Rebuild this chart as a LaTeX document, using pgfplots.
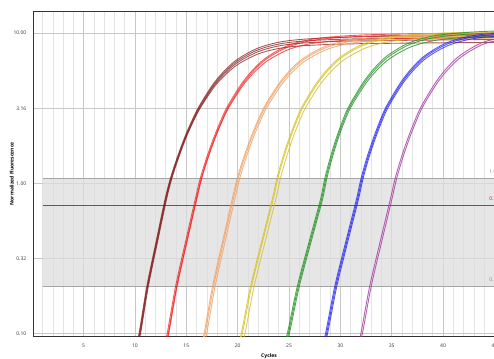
\documentclass[border=0pt]{standalone}
\usepackage{fontspec}
\setmainfont{Open Sans}
\usepackage{pgfplots}
\pgfplotsset{compat=1.18}
\definecolor{cDR}{RGB}{128,22,22}
\definecolor{cR}{RGB}{240,20,20}
\definecolor{cO}{RGB}{240,160,100}
\definecolor{cY}{RGB}{214,192,40}
\definecolor{cG}{RGB}{30,140,30}
\definecolor{cB}{RGB}{30,30,240}
\definecolor{cP}{RGB}{160,60,160}
\definecolor{bandfill}{RGB}{221,221,221}
\definecolor{bandline}{RGB}{165,165,165}
\begin{document}
\begin{tikzpicture}
\useasboundingbox (0,0) rectangle (494pt,358pt);
\clip (0,0) rectangle (494pt,358pt);
\node[anchor=base, font=\fontsize{16}{18}\selectfont, text=black!85, inner sep=0] at (67pt,361.5pt) {g};
\begin{axis}[
  at={(33.3pt,21.7pt)}, anchor=south west,
  scale only axis, width=472.4pt, height=325pt,
  xmin=0.1, xmax=46.1,
  ymode=log, ymin=0.0955, ymax=14.0,
  xtick={5,10,...,45}, minor xtick={1,...,47},
  ytick={0.1,0.31623,1,3.1623,10}, yticklabels={0.10,0.32,1.00,3.16,10.00},
  xmajorgrids=true, xminorgrids=true, ymajorgrids=true, yminorgrids=false,
  major grid style={black!22, line width=0.6pt},
  minor grid style={black!11, line width=0.6pt},
  axis line style={black!80, line width=0.9pt},
  major tick length=0pt, minor tick length=0pt,
  /pgf/number format/assume math mode=true,
  ticklabel style={font=\fontsize{5}{6}\selectfont, text=black!80},
  xticklabel style={yshift=-4pt},
  yticklabel style={xshift=-3.5pt},
  xlabel={\textbf{Cycles}}, ylabel={\textbf{Normalized Fluorescence}},
  label style={font=\fontsize{5}{6}\selectfont},
  xlabel style={at={(axis description cs:0.499,-0.0597)}, anchor=center},
  ylabel style={at={(axis description cs:-0.0457,0.5)}, anchor=center},
  every axis plot/.append style={line width=0.9pt},
]
% threshold band
\addplot[draw=none, fill=bandfill, opacity=0.75, forget plot] coordinates {(1,0.2046) (60,0.2046) (60,1.08) (1,1.08) (1,0.2046)};
\addplot[draw=bandline, line width=1.3pt, forget plot] coordinates {(1,1.08) (60,1.08)};
\addplot[draw=bandline, line width=1.3pt, forget plot] coordinates {(1,0.2046) (60,0.2046)};
\addplot[red, opacity=0.9, line width=1.4pt, smooth] coordinates {(1,0.709) (15,0.709) (30,0.709) (45,0.709) (60,0.709)};
\node[anchor=base west, font=\fontsize{5}{6}\selectfont, text=black!50, yshift=5pt, inner sep=0] at (axis cs:44.5,1.08) {1.08};
\node[anchor=base west, font=\fontsize{5}{6}\selectfont, text=red, yshift=5pt, inner sep=0] at (axis cs:44.5,0.709) {0.71};
\node[anchor=base west, font=\fontsize{5}{6}\selectfont, text=black!50, yshift=5pt, inner sep=0] at (axis cs:44.5,0.2046) {0.20};
% dark red
\addplot[draw=cDR, opacity=0.7, smooth] coordinates {(10.05,0.079)(10.40,0.100)(11.15,0.205)(12.05,0.407)(12.91,0.774)(13.45,1.08)(14.15,1.51)(14.95,2.11)(15.95,2.99)(16.75,3.72)(17.65,4.62)(18.65,5.56)(19.95,6.68)(22.15,8.04)(25.15,8.95)(31.15,9.44)(45.15,9.66)(50,9.67)};
\addplot[draw=cDR, opacity=0.7, smooth] coordinates {(10.10,0.079)(10.45,0.100)(11.20,0.205)(12.10,0.407)(12.96,0.774)(13.50,1.08)(14.20,1.51)(15.00,2.11)(16.00,2.98)(16.80,3.69)(17.70,4.57)(18.70,5.48)(20.00,6.55)(22.20,7.85)(25.20,8.71)(31.20,9.16)(45.20,9.37)(50,9.38)};
\addplot[draw=cDR, opacity=0.7, smooth] coordinates {(10.15,0.079)(10.50,0.100)(11.25,0.205)(12.15,0.407)(13.01,0.774)(13.55,1.08)(14.25,1.51)(15.05,2.11)(16.05,2.96)(16.85,3.66)(17.75,4.52)(18.75,5.39)(20.05,6.42)(22.25,7.65)(25.25,8.47)(31.25,8.87)(45.25,9.08)(50,9.09)};
\addplot[draw=cDR, opacity=0.7, smooth] coordinates {(10.20,0.079)(10.55,0.100)(11.30,0.205)(12.20,0.407)(13.06,0.774)(13.60,1.08)(14.30,1.51)(15.10,2.11)(16.10,2.95)(16.90,3.63)(17.80,4.46)(18.80,5.28)(20.10,6.25)(22.30,7.40)(25.30,8.14)(31.30,8.50)(45.30,8.69)(50,8.70)};
% red
\addplot[draw=cR, opacity=0.7, smooth] coordinates {(12.76,0.079)(13.14,0.100)(13.95,0.205)(14.92,0.407)(15.85,0.774)(16.36,1.08)(17.02,1.51)(17.79,2.11)(18.75,3.01)(19.55,3.76)(20.45,4.68)(21.45,5.67)(22.75,6.85)(24.95,8.30)(27.95,9.27)(33.95,9.82)(47.95,10.05)};
\addplot[draw=cR, opacity=0.7, smooth] coordinates {(12.86,0.079)(13.24,0.100)(14.05,0.205)(15.02,0.407)(15.95,0.774)(16.46,1.08)(17.12,1.51)(17.89,2.11)(18.85,3.00)(19.65,3.74)(20.55,4.65)(21.55,5.62)(22.85,6.77)(25.05,8.17)(28.05,9.11)(34.05,9.63)(48.05,9.85)};
\addplot[draw=cR, opacity=0.7, smooth] coordinates {(12.91,0.079)(13.29,0.100)(14.10,0.205)(15.07,0.407)(16.00,0.774)(16.51,1.08)(17.17,1.51)(17.94,2.11)(18.90,2.98)(19.70,3.69)(20.60,4.57)(21.60,5.48)(22.90,6.55)(25.10,7.85)(28.10,8.71)(34.10,9.16)(48.10,9.37)};
% orange
\addplot[draw=cO, opacity=0.8, smooth] coordinates {(16.36,0.079)(16.74,0.100)(17.55,0.205)(18.52,0.407)(19.45,0.774)(19.96,1.08)(20.62,1.51)(21.39,2.11)(22.35,3.00)(23.15,3.74)(24.05,4.65)(25.05,5.62)(26.35,6.77)(28.55,8.17)(31.55,9.11)(37.55,9.63)(51.55,9.85)};
\addplot[draw=cO, opacity=0.8, smooth] coordinates {(16.46,0.079)(16.84,0.100)(17.65,0.205)(18.62,0.407)(19.55,0.774)(20.06,1.08)(20.72,1.51)(21.49,2.11)(22.45,2.99)(23.25,3.72)(24.15,4.62)(25.15,5.56)(26.45,6.68)(28.65,8.04)(31.65,8.95)(37.65,9.44)(51.65,9.66)};
\addplot[draw=cO, opacity=0.8, smooth] coordinates {(16.61,0.079)(16.99,0.100)(17.80,0.205)(18.77,0.407)(19.70,0.774)(20.21,1.08)(20.87,1.51)(21.64,2.11)(22.60,2.98)(23.40,3.69)(24.30,4.57)(25.30,5.48)(26.60,6.55)(28.80,7.85)(31.80,8.71)(37.80,9.16)(51.80,9.37)};
% yellow
\addplot[draw=cY, opacity=0.8, smooth] coordinates {(19.94,0.079)(20.36,0.100)(21.25,0.205)(22.32,0.407)(23.35,0.774)(23.82,1.08)(24.42,1.51)(25.14,2.11)(26.05,3.02)(26.85,3.79)(27.75,4.73)(28.75,5.75)(30.05,6.98)(32.25,8.49)(35.25,9.51)(41.25,10.10)(55.25,10.34)};
\addplot[draw=cY, opacity=0.8, smooth] coordinates {(20.04,0.079)(20.46,0.100)(21.35,0.205)(22.42,0.407)(23.45,0.774)(23.92,1.08)(24.52,1.51)(25.24,2.11)(26.15,3.01)(26.95,3.77)(27.85,4.70)(28.85,5.70)(30.15,6.90)(32.35,8.36)(35.35,9.35)(41.35,9.91)(55.35,10.14)};
\addplot[draw=cY, opacity=0.8, smooth] coordinates {(20.29,0.079)(20.71,0.100)(21.60,0.205)(22.67,0.407)(23.70,0.774)(24.17,1.08)(24.77,1.51)(25.49,2.11)(26.40,2.99)(27.20,3.72)(28.10,4.62)(29.10,5.56)(30.40,6.68)(32.60,8.04)(35.60,8.95)(41.60,9.44)(55.60,9.66)};
% green
\addplot[draw=cG, opacity=0.75, smooth] coordinates {(24.39,0.079)(24.84,0.100)(25.80,0.205)(26.95,0.407)(28.05,0.774)(28.49,1.08)(29.05,1.51)(29.72,2.11)(30.60,3.03)(31.40,3.81)(32.30,4.78)(33.30,5.84)(34.60,7.11)(36.80,8.68)(39.80,9.76)(45.80,10.38)(59.80,10.63)};
\addplot[draw=cG, opacity=0.75, smooth] coordinates {(24.49,0.079)(24.94,0.100)(25.90,0.205)(27.05,0.407)(28.15,0.774)(28.59,1.08)(29.15,1.51)(29.82,2.11)(30.70,3.02)(31.50,3.79)(32.40,4.73)(33.40,5.75)(34.70,6.98)(36.90,8.49)(39.90,9.51)(45.90,10.10)(59.90,10.34)};
\addplot[draw=cG, opacity=0.75, smooth] coordinates {(24.59,0.079)(25.04,0.100)(26.00,0.205)(27.15,0.407)(28.25,0.774)(28.69,1.08)(29.25,1.51)(29.92,2.11)(30.80,3.00)(31.60,3.74)(32.50,4.65)(33.50,5.62)(34.80,6.77)(37.00,8.17)(40.00,9.11)(46.00,9.63)(60.00,9.85)};
% blue
\addplot[draw=cB, opacity=0.75, smooth] coordinates {(28.14,0.079)(28.56,0.100)(29.45,0.205)(30.52,0.407)(31.55,0.774)(32.02,1.08)(32.62,1.51)(33.34,2.11)(34.25,3.03)(35.05,3.81)(35.95,4.78)(36.95,5.84)(38.25,7.11)(40.45,8.68)(43.45,9.76)(49.45,10.38)};
\addplot[draw=cB, opacity=0.75, smooth] coordinates {(28.24,0.079)(28.66,0.100)(29.55,0.205)(30.62,0.407)(31.65,0.774)(32.12,1.08)(32.72,1.51)(33.44,2.11)(34.35,3.03)(35.15,3.79)(36.05,4.75)(37.05,5.78)(38.35,7.03)(40.55,8.55)(43.55,9.59)(49.55,10.20)};
\addplot[draw=cB, opacity=0.75, smooth] coordinates {(28.34,0.079)(28.76,0.100)(29.65,0.205)(30.72,0.407)(31.75,0.774)(32.22,1.08)(32.82,1.51)(33.54,2.11)(34.45,3.01)(35.25,3.77)(36.15,4.70)(37.15,5.70)(38.45,6.90)(40.65,8.36)(43.65,9.35)(49.65,9.91)};
% purple
\addplot[draw=cP, opacity=0.8, smooth] coordinates {(31.60,0.079)(32.00,0.100)(32.85,0.205)(33.87,0.407)(34.85,0.774)(35.34,1.08)(35.97,1.51)(36.71,2.11)(37.65,3.03)(38.45,3.81)(39.35,4.78)(40.35,5.84)(41.65,7.11)(43.85,8.68)(46.85,9.76)};
\addplot[draw=cP, opacity=0.8, smooth] coordinates {(31.75,0.079)(32.15,0.100)(33.00,0.205)(34.02,0.407)(35.00,0.774)(35.49,1.08)(36.12,1.51)(36.86,2.11)(37.80,3.02)(38.60,3.79)(39.50,4.73)(40.50,5.75)(41.80,6.98)(44.00,8.49)(47.00,9.51)};
\end{axis}
\end{tikzpicture}
\end{document}
